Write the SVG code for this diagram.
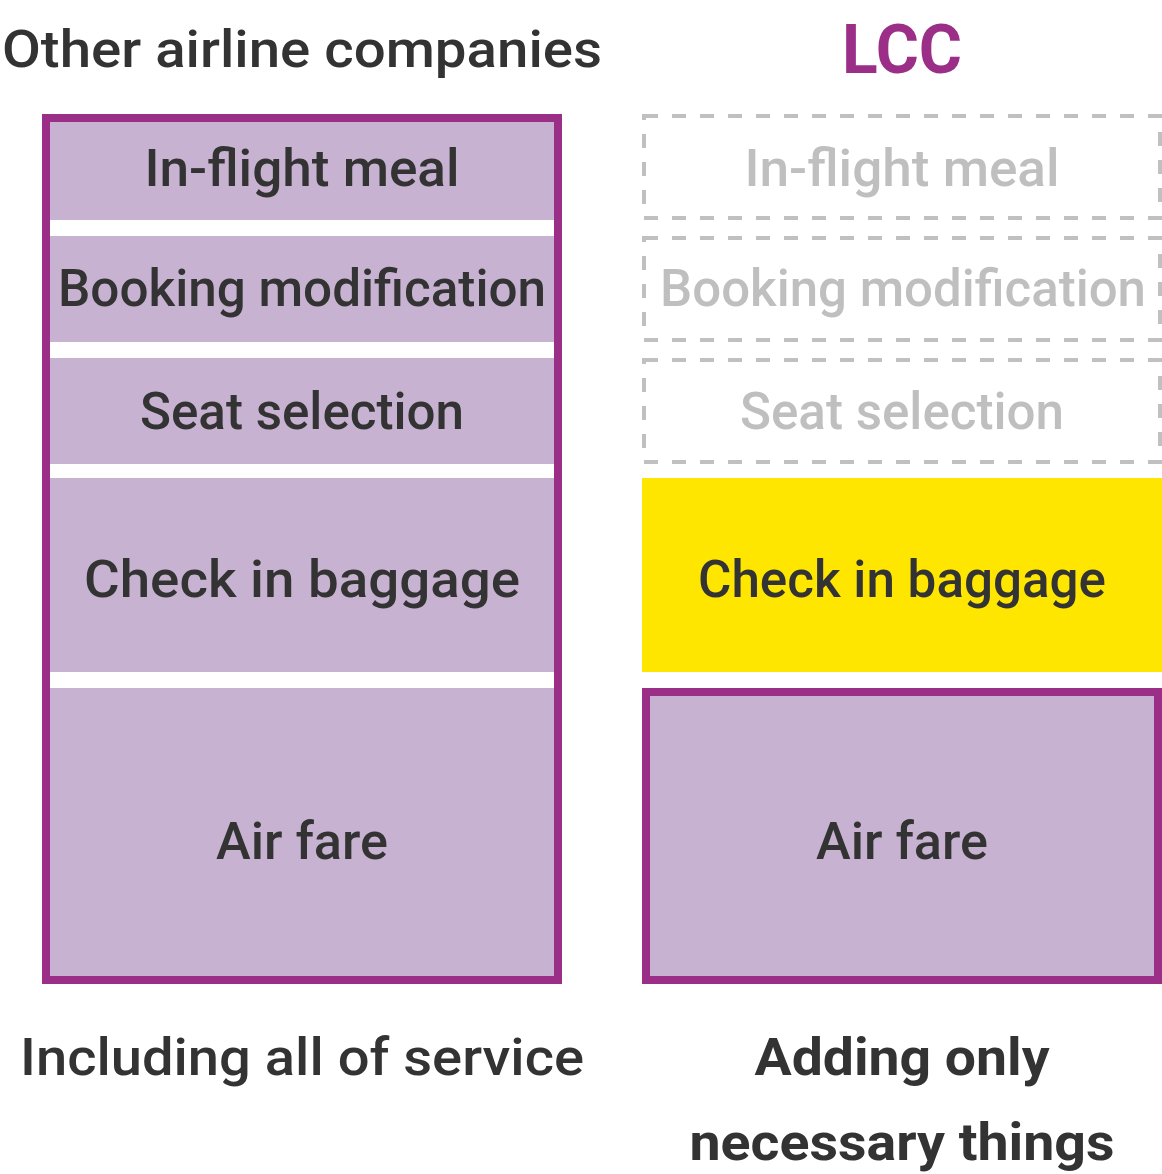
<svg xmlns="http://www.w3.org/2000/svg" width="1162" height="1174" viewBox="0 0 1162 1174">
<style>
.t{font-family:Roboto,"Liberation Sans",sans-serif;font-size:52px;font-weight:500;fill:#333333;text-anchor:middle}
.b{font-weight:bold}
.g{fill:#bfbfbf}
.cell{fill:#c8b2d2}
.frame{fill:none;stroke:#9b2f88;stroke-width:8}
.dash{fill:none;stroke:#c0c0c0;stroke-width:4;stroke-dasharray:14 14}
</style>
<rect width="1162" height="1174" fill="#ffffff"/>
<g id="titles">
<text class="t" x="302" y="67" textLength="600" lengthAdjust="spacingAndGlyphs">Other airline companies</text>
<text class="t b" x="902" y="73" style="font-size:68px;fill:#9b2f88" textLength="120" lengthAdjust="spacingAndGlyphs">LCC</text>
</g>
<g id="left-column">
<g id="left-meal"><rect class="cell" x="50" y="122" width="504" height="98"/><text class="t" x="302" y="186" textLength="315" lengthAdjust="spacingAndGlyphs">In-flight meal</text></g>
<g id="left-booking"><rect class="cell" x="50" y="236" width="504" height="106"/><text class="t" x="302" y="306" textLength="488" lengthAdjust="spacingAndGlyphs">Booking modification</text></g>
<g id="left-seat"><rect class="cell" x="50" y="358" width="504" height="106"/><text class="t" x="302" y="429" textLength="324" lengthAdjust="spacingAndGlyphs">Seat selection</text></g>
<g id="left-baggage"><rect class="cell" x="50" y="478" width="504" height="194"/><text class="t" x="302" y="597" textLength="436" lengthAdjust="spacingAndGlyphs">Check in baggage</text></g>
<g id="left-fare"><rect class="cell" x="50" y="688" width="504" height="288"/><text class="t" x="302" y="859" textLength="172" lengthAdjust="spacingAndGlyphs">Air fare</text></g>
<rect class="frame" x="46" y="118" width="512" height="862"/>
</g>
<g id="right-column">
<g id="right-meal"><rect class="dash" x="644" y="116" width="516" height="102"/><text class="t g" x="902" y="186" textLength="315" lengthAdjust="spacingAndGlyphs">In-flight meal</text></g>
<g id="right-booking"><rect class="dash" x="644" y="238" width="516" height="102"/><text class="t g" x="903" y="306" textLength="486" lengthAdjust="spacingAndGlyphs">Booking modification</text></g>
<g id="right-seat"><rect class="dash" x="644" y="360" width="516" height="102"/><text class="t g" x="902" y="429" textLength="324" lengthAdjust="spacingAndGlyphs">Seat selection</text></g>
<g id="right-baggage"><rect x="642" y="478" width="520" height="194" fill="#ffe600"/><text class="t" x="902" y="597" textLength="408" lengthAdjust="spacingAndGlyphs">Check in baggage</text></g>
<g id="right-fare"><rect class="cell" x="646" y="692" width="512" height="288"/><rect class="frame" x="646" y="692" width="512" height="288"/><text class="t" x="902" y="859" textLength="172" lengthAdjust="spacingAndGlyphs">Air fare</text></g>
</g>
<g id="captions">
<text class="t" x="302" y="1075" textLength="564" lengthAdjust="spacingAndGlyphs">Including all of service</text>
<text class="t b" x="902" y="1075" textLength="295" lengthAdjust="spacingAndGlyphs">Adding only</text>
<text class="t b" x="902" y="1160" textLength="425" lengthAdjust="spacingAndGlyphs">necessary things</text>
</g>
<g id="connectors"/>
</svg>
